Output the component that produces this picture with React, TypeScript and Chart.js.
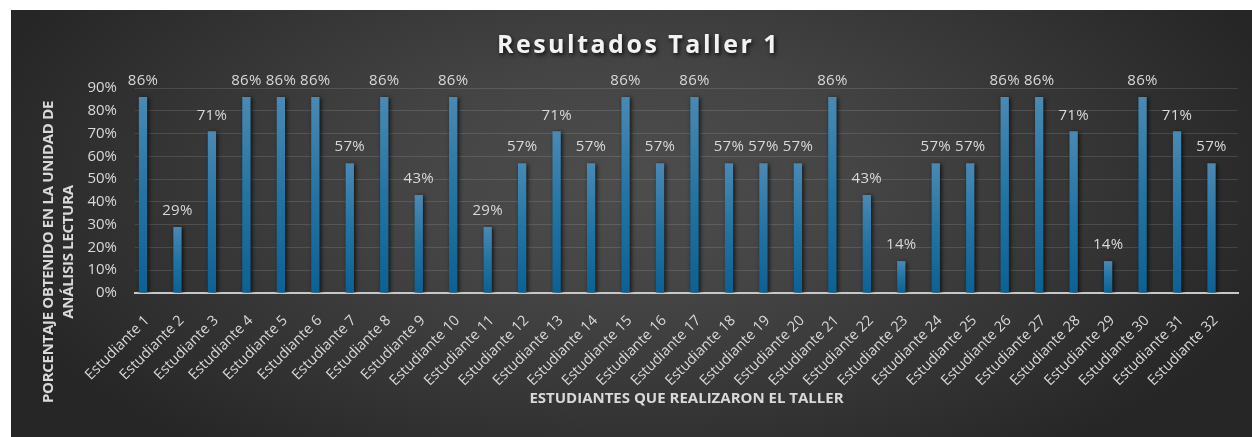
import React, { useEffect, useRef } from "react";
import { Chart, registerables } from "chart.js";

Chart.register(...registerables);

const chartTitle = "Resultados Taller 1";
const yTitleLines = ["PORCENTAJE OBTENIDO EN LA UNIDAD DE", "ANÁLISIS LECTURA"];
const xTitle = "ESTUDIANTES QUE REALIZARON EL TALLER";

const students = [
  "Estudiante 1", "Estudiante 2", "Estudiante 3", "Estudiante 4",
  "Estudiante 5", "Estudiante 6", "Estudiante 7", "Estudiante 8",
  "Estudiante 9", "Estudiante 10", "Estudiante 11", "Estudiante 12",
  "Estudiante 13", "Estudiante 14", "Estudiante 15", "Estudiante 16",
  "Estudiante 17", "Estudiante 18", "Estudiante 19", "Estudiante 20",
  "Estudiante 21", "Estudiante 22", "Estudiante 23", "Estudiante 24",
  "Estudiante 25", "Estudiante 26", "Estudiante 27", "Estudiante 28",
  "Estudiante 29", "Estudiante 30", "Estudiante 31", "Estudiante 32",
];

const scores = [
  86, 29, 71, 86, 86, 86, 57, 86,
  43, 86, 29, 57, 71, 57, 86, 57,
  86, 57, 57, 57, 86, 43, 14, 57,
  57, 86, 86, 71, 14, 86, 71, 57,
];

// Excel chart kept two further (empty) series slots beside the first one
const emptySeriesB: (number | null)[] = [];
const emptySeriesC: (number | null)[] = [];

const yMin = 0;
const yMax = 90;
const yStep = 10;

const LABEL_COLOR = "#d9d9d9";
const FONT = '"Open Sans", "Noto Sans", sans-serif';

const decorPlugin = {
  id: "decor",
  beforeDatasetDraw(chart: any, args: any) {
    if (args.index !== 0) return;
    const ctx = chart.ctx;
    ctx.save();
    ctx.shadowColor = "rgba(0,0,0,0.75)";
    ctx.shadowBlur = 4;
    ctx.shadowOffsetX = 1.5;
    ctx.shadowOffsetY = 1;
  },
  afterDatasetDraw(chart: any, args: any) {
    if (args.index !== 0) return;
    chart.ctx.restore();
  },
  afterDraw(chart: any) {
    const ctx = chart.ctx;
    const area = chart.chartArea;
    const meta = chart.getDatasetMeta(0);

    // data labels
    ctx.save();
    ctx.font = `15px ${FONT}`;
    (ctx as any).letterSpacing = "0.3px";
    ctx.fillStyle = LABEL_COLOR;
    ctx.textAlign = "center";
    ctx.textBaseline = "middle";
    meta.data.forEach((el: any, i: number) => {
      ctx.fillText(`${scores[i]}%`, el.x, el.y - 16);
    });
    ctx.restore();

    // chart title
    ctx.save();
    ctx.font = `bold 25px ${FONT}`;
    (ctx as any).letterSpacing = "2.5px";
    ctx.textAlign = "center";
    ctx.textBaseline = "middle";
    ctx.shadowColor = "rgba(0,0,0,0.8)";
    ctx.shadowBlur = 4;
    ctx.shadowOffsetX = 1.5;
    ctx.shadowOffsetY = 2;
    ctx.fillStyle = "#f2f2f2";
    ctx.fillText(chartTitle, chart.width / 2 + 7, 36);
    ctx.restore();

    // y axis title (two lines, rotated)
    ctx.save();
    ctx.font = `bold 15px ${FONT}`;
    (ctx as any).letterSpacing = "-0.3px";
    ctx.fillStyle = LABEL_COLOR;
    ctx.textAlign = "center";
    ctx.textBaseline = "middle";
    ctx.translate(0, 242);
    ctx.rotate(-Math.PI / 2);
    ctx.fillText(yTitleLines[0], 0, 38);
    ctx.fillText(yTitleLines[1], 0, 58);
    ctx.restore();

    // x axis title
    ctx.save();
    ctx.font = `bold 15px ${FONT}`;
    (ctx as any).letterSpacing = "0px";
    ctx.fillStyle = LABEL_COLOR;
    ctx.textAlign = "center";
    ctx.textBaseline = "middle";
    ctx.fillText(xTitle, (area.left + area.right) / 2, 389);
    ctx.restore();
  },
};

function barGradient(context: any) {
  const chart = context.chart;
  const y = chart.scales?.y;
  const v = context.raw;
  if (!y || v == null) return "#2878a5";
  const top = y.getPixelForValue(v);
  const bottom = y.getPixelForValue(0);
  if (!isFinite(top) || !isFinite(bottom) || top === bottom) return "#2878a5";
  const g = chart.ctx.createLinearGradient(0, top, 0, bottom);
  g.addColorStop(0, "#4a89b4");
  g.addColorStop(0.5, "#2374a3");
  g.addColorStop(1, "#0c6193");
  return g;
}

export default function App() {
  const canvasRef = useRef<HTMLCanvasElement | null>(null);

  useEffect(() => {
    document.body.style.margin = "0";
    const canvas = canvasRef.current;
    if (!canvas) return;
    const chart = new Chart(canvas, {
      type: "bar",
      data: {
        labels: students,
        datasets: [
          {
            label: "Porcentaje",
            data: scores,
            backgroundColor: barGradient,
            borderWidth: 0,
            categoryPercentage: 0.804,
            barPercentage: 0.9,
          },
          {
            label: "B",
            data: emptySeriesB,
            backgroundColor: "transparent",
            categoryPercentage: 0.804,
            barPercentage: 0.9,
          },
          {
            label: "C",
            data: emptySeriesC,
            backgroundColor: "transparent",
            categoryPercentage: 0.804,
            barPercentage: 0.9,
          },
        ],
      },
      options: {
        animation: false,
        responsive: false,
        maintainAspectRatio: false,
        layout: { padding: { left: 0, right: 14, top: 78, bottom: 0 } },
        plugins: {
          legend: { display: false },
          title: { display: false },
          tooltip: { enabled: false },
        },
        scales: {
          x: {
            grid: { display: false },
            border: { display: true, color: "#c8c8c8", width: 2 },
            ticks: {
              color: LABEL_COLOR,
              font: { family: FONT, size: 14.5 },
              minRotation: 45,
              maxRotation: 45,
              autoSkip: false,
              padding: 11,
              labelOffset: -5,
            },
            afterFit: (scale: any) => {
              scale.height = 144;
            },
          },
          y: {
            min: yMin,
            max: yMax,
            grid: {
              color: "rgba(255,255,255,0.12)",
              lineWidth: 1,
              drawTicks: false,
            },
            border: { display: false },
            ticks: {
              stepSize: yStep,
              color: LABEL_COLOR,
              font: { family: FONT, size: 15 },
              padding: 18,
              callback: (v: any) => `${v}%`,
            },
            afterFit: (scale: any) => {
              scale.width = 124;
            },
          },
        },
      },
      plugins: [decorPlugin],
    });
    return () => chart.destroy();
  }, []);

  return (
    <div
      style={{
        position: "absolute",
        left: 11,
        top: 10,
        width: 1241,
        height: 427,
        background:
          "radial-gradient(ellipse 55% 80% at 50% 40%, #4d4d4d 0%, #444444 35%, #343434 70%, #262626 100%)",
      }}
    >
      <canvas ref={canvasRef} width={1241} height={427} style={{ display: "block" }} />
    </div>
  );
}
